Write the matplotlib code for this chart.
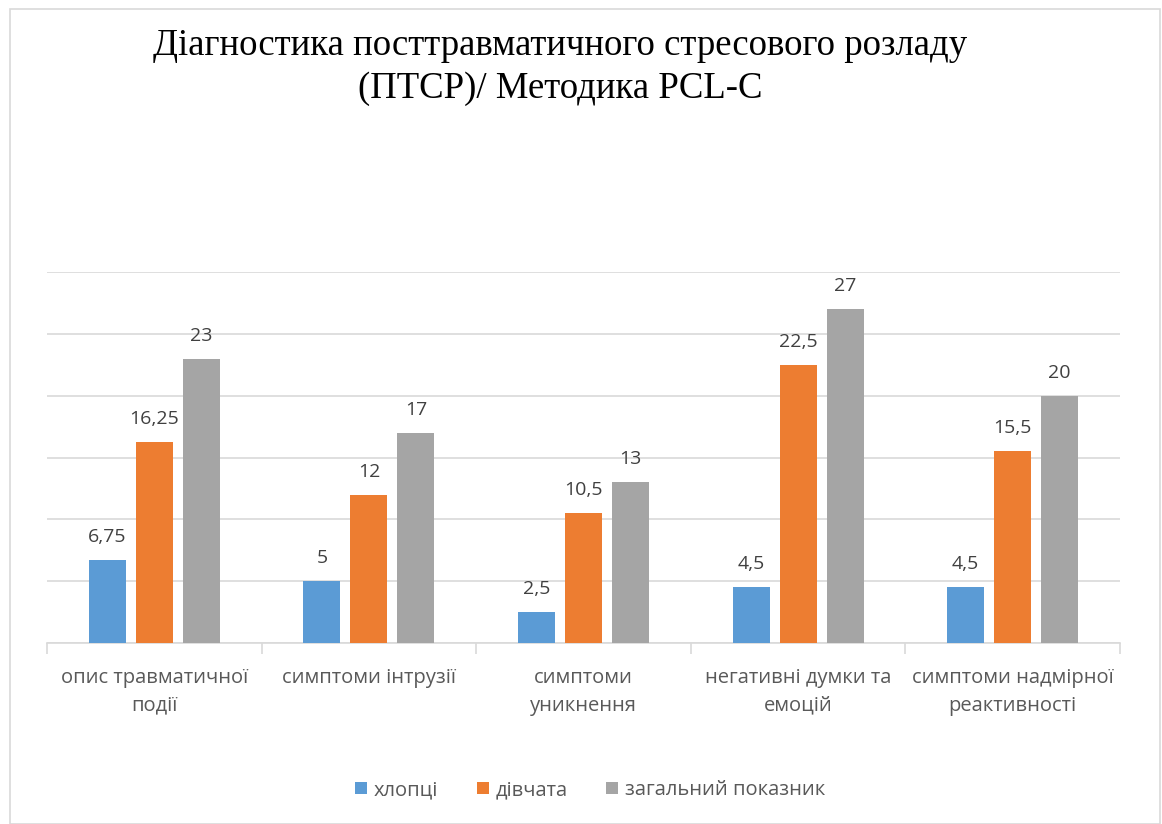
import matplotlib.pyplot as plt
import numpy as np
from matplotlib.patches import Rectangle

categories = ['опис травматичної\nподії', 'симптоми інтрузії', 'симптоми\nуникнення',
              'негативні думки та\nемоцій', 'симптоми надмірної\nреактивності']
boys = [6.75, 5, 2.5, 4.5, 4.5]
girls = [16.25, 12, 10.5, 22.5, 15.5]
total = [23, 17, 13, 27, 20]
series_names = ['хлопці', 'дівчата', 'загальний показник']
colors = ['#5b9bd5', '#ed7d31', '#a5a5a5']

plt.rcParams['font.family'] = ['Open Sans', 'DejaVu Sans']

fig = plt.figure(figsize=(11.62, 8.24), dpi=100)
# chart border
fig.patches.append(Rectangle((10 / 1162, 0), 1150 / 1162, 815 / 824, transform=fig.transFigure,
                             fill=False, edgecolor='#d9d9d9', linewidth=1.2))

ax = fig.add_axes([47 / 1162, 1 - 643 / 824, 1073 / 1162, 371 / 824])

x = np.arange(len(categories))
width = 0.172
step = 0.219
for i, (vals, name, c) in enumerate(zip([boys, girls, total], series_names, colors)):
    bars = ax.bar(x + (i - 1) * step, vals, width, color=c, label=name, zorder=3)
    labels = [str(v).replace('.', ',') for v in vals]
    ax.bar_label(bars, labels=labels, padding=10, fontsize=14, color='#404040')

ax.set_ylim(0, 30)
ax.set_xlim(-0.5, len(categories) - 0.5)
ax.set_yticks(range(0, 31, 5))
ax.yaxis.grid(True, color='#d9d9d9', linewidth=1.2, zorder=0)
ax.tick_params(axis='y', left=False, labelleft=False)
for s in ['top', 'right', 'left']:
    ax.spines[s].set_visible(False)
ax.spines['bottom'].set_color('#d9d9d9')
ax.spines['bottom'].set_linewidth(1.2)

ax.set_xticks(x)
ax.set_xticklabels(categories, fontsize=14.5, color='#595959', linespacing=1.5)
ax.tick_params(axis='x', length=0, pad=18)
ax.set_xticks(np.arange(-0.5, len(categories)), minor=True)
ax.tick_params(axis='x', which='minor', length=8, color='#d9d9d9', width=1.2)

fig.text(0.482, 1 - 67 / 824, 'Діагностика посттравматичного стресового розладу\n(ПТСР)/ Методика PCL-C',
         ha='center', va='center', fontsize=26.5, family=['Liberation Serif', 'DejaVu Serif'],
         color='#000000', linespacing=1.3)

fig.legend(loc='center', bbox_to_anchor=(0.508, 1 - 790 / 824), ncol=3, frameon=False,
           fontsize=14.5, handlelength=0.6, handleheight=0.6, handletextpad=0.35,
           columnspacing=1.9, labelcolor='#595959')

fig.savefig('out.png', dpi=100)
